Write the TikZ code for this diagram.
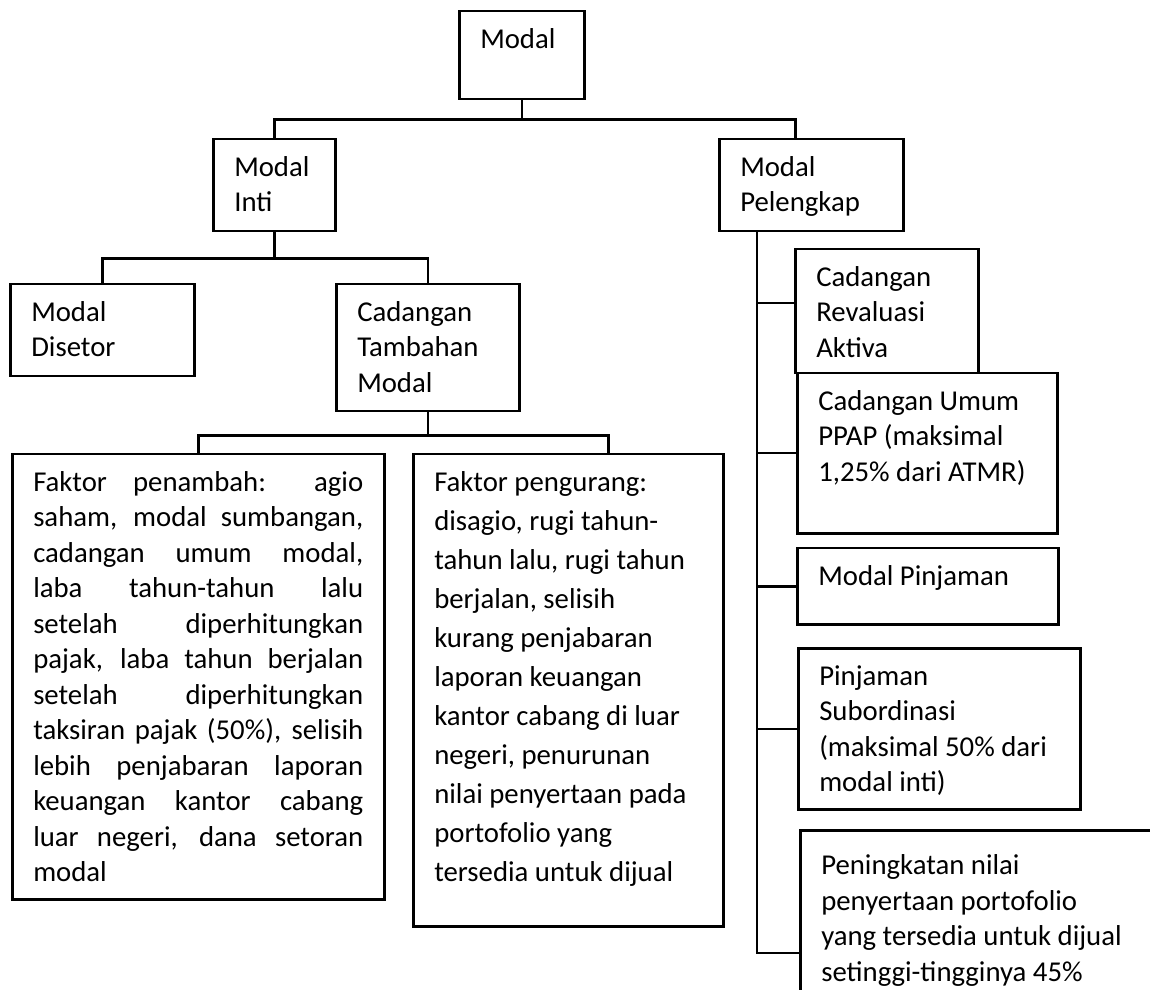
\documentclass[tikz,border=0pt]{standalone}
\usepackage{fontspec}
\setmainfont{Carlito}
\usepackage{tikz}
\usetikzlibrary{calc}
\tikzset{
box/.style={%
    rectangle,
    draw=black,
    fill=white,
    anchor=north west,
    inner xsep=8.4pt,
    inner ysep=6.8pt
},
downover/.style={to path={-- ++(0,#1) -| (\tikztotarget)}},
sidebranch/.style={to path={|- (\tikztotarget)}},
}
% box of fixed size (px of the scan), text at the top
\newcommand{\boxcell}[3]{\parbox[c][\dimexpr #2pt*2/5-13.6pt\relax][t]{\dimexpr #1pt*2/5-16.8pt\relax}{#3}}

\begin{document}
\begin{tikzpicture}[x=0.4pt, y=-0.4pt, line width=1pt, font=\fontsize{11.5}{14.2}\selectfont]
	\useasboundingbox (0,0) rectangle (1150,990);
	\clip (0,0) rectangle (1150,990);

	\node[box] (modal) at (458,10) {\boxcell{125}{88}{Modal}};
	\node[box] (inti) at (212,138) {\boxcell{122}{92}{Modal\\Inti}};
	\node[box] (pelengkap) at (718,138) {\boxcell{184}{92}{Modal\\Pelengkap}};
	\node[box] (disetor) at (9,283) {\boxcell{184}{92}{Modal\\Disetor}};
	\node[box] (tambahan) at (335,283) {\boxcell{183}{127}{Cadangan\\Tambahan\\Modal}};
	\node[box] (penambah) at (11,453) {\boxcell{372}{445}{\tolerance=10000 \hbadness=10000
		\hyphenpenalty=10000 \exhyphenpenalty=10000
		Faktor penambah: agio\linebreak saham, modal sumbangan,\linebreak
		cadangan umum modal,\linebreak laba tahun-tahun lalu\linebreak
		setelah diperhitungkan\linebreak pajak, laba tahun berjalan\linebreak
		setelah diperhitungkan\linebreak taksiran pajak (50\%), selisih\linebreak
		lebih penjabaran laporan\linebreak keuangan kantor cabang\linebreak
		luar negeri, dana setoran\linebreak modal}};
	\node[box] (pengurang) at (412,453) {\boxcell{310}{472}{\fontsize{11.5}{15.6}\selectfont\raggedright
		Faktor pengurang:\\ disagio, rugi tahun-\\ tahun lalu, rugi tahun\\
		berjalan, selisih\\ kurang penjabaran\\ laporan keuangan\\
		kantor cabang di luar\\ negeri, penurunan\\ nilai penyertaan pada\\
		portofolio yang\\ tersedia untuk dijual}};
	\node[box] (revaluasi) at (794,248) {\boxcell{183}{124}{Cadangan\\Revaluasi\\Aktiva}};
	\node[box] (umum) at (796,372) {\boxcell{260}{160}{\raggedright Cadangan Umum\\ PPAP (maksimal\\ 1,25\% dari ATMR)}};
	\node[box] (pinjaman) at (796,547) {\boxcell{261}{76}{Modal Pinjaman}};
	\node[box] (subordinasi) at (797,647) {\boxcell{282}{161}{\raggedright Pinjaman\\ Subordinasi\\ (maksimal 50\% dari\\ modal inti)}};
	\node[box] (peningkatan) at (799,829) {\boxcell{400}{200}{\raggedright\vspace*{3pt}
		Peningkatan nilai\\ penyertaan portofolio\\ yang tersedia untuk dijual\\ setinggi-tingginya 45\%}};

	\coordinate (trunk) at ($(pelengkap.south west)+(39,0)$);

	\draw (modal.south) to[downover=19] (inti.north);
	\draw (modal.south) to[downover=19] ($(pelengkap.north)+(-16,0)$);
	\draw (inti.south) to[downover=26] (disetor.north);
	\draw (inti.south) to[downover=26] (tambahan.north);
	\draw (tambahan.south) to[downover=23] (penambah.north);
	\draw (tambahan.south) to[downover=23] ($(pengurang.north)+(40,0)$);
	\draw (trunk) to[sidebranch] ($(revaluasi.north west)+(0,55)$);
	\draw (trunk) to[sidebranch] (umum.west);
	\draw (trunk) to[sidebranch] (pinjaman.west);
	\draw (trunk) to[sidebranch] (subordinasi.west);
	\draw (trunk) to[sidebranch] ($(peningkatan.north west)+(0,124)$);
\end{tikzpicture}
\end{document}
